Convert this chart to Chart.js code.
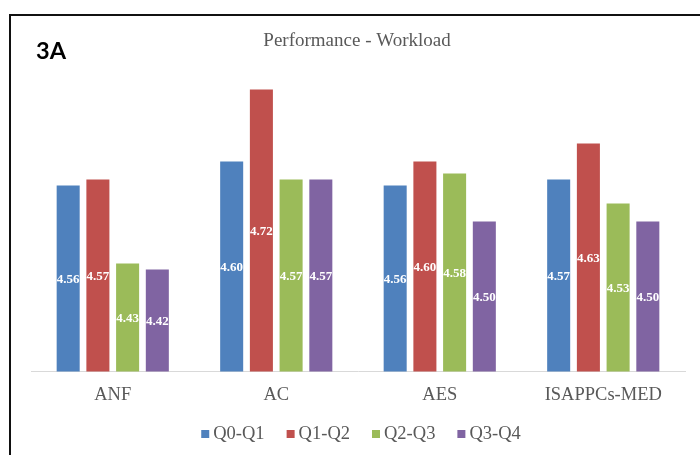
<!DOCTYPE html>
<html>
<head>
<meta charset="utf-8">
<script src="https://cdn.jsdelivr.net/npm/chart.js@4/dist/chart.umd.min.js"></script>
<style>
  html, body { margin: 0; padding: 0; background: #ffffff; }
  #wrap { width: 700px; height: 455px; position: relative; }
</style>
</head>
<body>
<div id="wrap"><canvas id="c" width="700" height="455"></canvas></div>
<script>
// Survey groups along the x axis
const categories = ['ANF', 'AC', 'AES', 'ISAPPCs-MED'];

// Mean workload score per quarter
const seriesNames = ['Q0-Q1', 'Q1-Q2', 'Q2-Q3', 'Q3-Q4'];
const q0q1 = [4.56, 4.60, 4.56, 4.57];
const q1q2 = [4.57, 4.72, 4.60, 4.63];
const q2q3 = [4.43, 4.57, 4.58, 4.53];
const q3q4 = [4.42, 4.57, 4.50, 4.50];

const seriesColors = ['#4F81BD', '#C0504D', '#9BBB59', '#8064A2'];
const seriesValues = [q0q1, q1q2, q2q3, q3q4];

const SERIF = '"Liberation Serif", "Times New Roman", serif';

// Frame, panel tag, title, value labels and legend row
const decorPlugin = {
  id: 'decor',
  beforeDraw(chart) {
    const ctx = chart.ctx;
    ctx.save();
    ctx.fillStyle = '#ffffff';
    ctx.fillRect(0, 0, chart.width, chart.height);
    ctx.strokeStyle = '#111111';
    ctx.lineWidth = 2;
    ctx.beginPath();
    ctx.moveTo(10, chart.height + 5);
    ctx.lineTo(10, 15);
    ctx.lineTo(chart.width + 5, 15);
    ctx.stroke();

    ctx.fillStyle = '#000000';
    ctx.font = 'bold 23.5px Lato, "Open Sans", sans-serif';
    ctx.textAlign = 'left';
    ctx.textBaseline = 'alphabetic';
    ctx.fillText('3A', 36, 58.5);

    ctx.fillStyle = '#595959';
    ctx.font = '19px ' + SERIF;
    ctx.textAlign = 'center';
    ctx.fillText('Performance - Workload', 357, 46);
    ctx.restore();
  },
  afterDraw(chart) {
    const ctx = chart.ctx;
    const yScale = chart.scales.y;
    const xScale = chart.scales.x;
    ctx.save();

    // value labels centred inside each bar
    ctx.fillStyle = '#ffffff';
    ctx.font = 'bold 13px ' + SERIF;
    ctx.textAlign = 'center';
    ctx.textBaseline = 'middle';
    const basePx = yScale.getPixelForValue(yScale.min);
    chart.data.datasets.forEach((ds, i) => {
      const meta = chart.getDatasetMeta(i);
      ds.data.forEach((v, j) => {
        const el = meta.data[j];
        const cx = (el && isFinite(el.x)) ? el.x : xScale.getPixelForValue(j);
        const topPx = yScale.getPixelForValue(v);
        ctx.fillText(Number(v).toFixed(2), cx, (topPx + basePx) / 2 + 1);
      });
    });

    // legend row under the axis
    ctx.font = '18.5px ' + SERIF;
    ctx.textBaseline = 'middle';
    ctx.textAlign = 'left';
    const box = 8, gapIn = 4, gapOut = 22;
    const items = chart.data.datasets.map(ds => ({
      label: ds.label, color: ds.backgroundColor, w: ctx.measureText(ds.label).width
    }));
    const total = items.reduce((s, it) => s + box + gapIn + it.w, 0) + gapOut * (items.length - 1);
    let x = 361 - total / 2;
    const y = 434;
    items.forEach(it => {
      ctx.fillStyle = it.color;
      ctx.fillRect(x, y - 4, box, box);
      x += box + gapIn;
      ctx.fillStyle = '#595959';
      ctx.fillText(it.label, x, y);
      x += it.w + gapOut;
    });
    ctx.restore();
  }
};

new Chart(document.getElementById('c'), {
  type: 'bar',
  data: {
    labels: categories,
    datasets: seriesNames.map((name, i) => ({
      label: name,
      data: seriesValues[i],
      backgroundColor: seriesColors[i],
      borderWidth: 0,
      categoryPercentage: 0.727,
      barPercentage: 0.775
    }))
  },
  options: {
    responsive: false,
    animation: false,
    layout: { padding: { left: 31, right: 15, top: 71.5, bottom: 0 } },
    plugins: {
      legend: { display: false },
      title: { display: false },
      tooltip: { enabled: false }
    },
    scales: {
      x: {
        grid: { display: false, drawTicks: false, tickLength: 0 },
        border: { display: true, color: '#D9D9D9', width: 1 },
        ticks: {
          color: '#595959',
          font: { family: SERIF, size: 18.5 },
          padding: 13
        },
        afterFit(scale) { scale.height = 83.5; }
      },
      y: {
        display: false,
        min: 4.25,
        max: 4.75
      }
    }
  },
  plugins: [decorPlugin]
});
</script>
</body>
</html>
